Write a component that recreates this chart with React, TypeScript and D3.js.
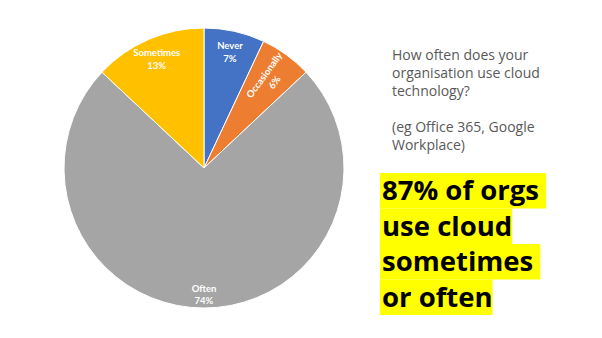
import React, { useEffect, useRef } from 'react'
import * as d3 from 'd3'

const categories = ['Never', 'Occasionally', 'Often', 'Sometimes']
const percents = [7, 6, 74, 13]
const colors = ['#4472C4', '#ED7D31', '#A5A5A5', '#FFC000']
const questionLines = ['How often does your', 'organisation use cloud', 'technology?', '', '(eg Office 365, Google', 'Workplace)']
const headlineLines = ['87% of orgs ', 'use cloud', 'sometimes ', 'or often']

const W = 602
const H = 338

export default function App() {
  const ref = useRef<SVGSVGElement>(null)

  useEffect(() => {
    document.body.style.margin = '0'
    const svg = d3.select(ref.current)
    svg.selectAll('*').remove()

    const cx = 204, cy = 168, r = 140
    const data = categories.map((c, i) => ({ name: c, value: percents[i], color: colors[i] }))
    const pie = d3.pie<any>().value(d => d.value).sort(null)
    const arc = d3.arc<any>().innerRadius(0).outerRadius(r)
    const arcs = pie(data)

    const g = svg.append('g').attr('transform', `translate(${cx},${cy})`)
    g.selectAll('path')
      .data(arcs)
      .enter()
      .append('path')
      .attr('d', arc)
      .attr('fill', d => d.data.color)
      .attr('stroke', '#fff')
      .attr('stroke-width', 1)

    // labels, "Occasionally" is rotated along its radius like in the original
    arcs.forEach(a => {
      const narrow = a.data.name === 'Occasionally'
      const lr = narrow ? r * 0.79 : a.data.name === 'Often' ? r * 0.9 : r * 0.85
      const la = d3.arc<any>().innerRadius(lr).outerRadius(lr)
      const [x, y] = la.centroid(a)
      const mid = ((a.startAngle + a.endAngle) / 2) * 180 / Math.PI
      const t = g.append('text')
        .attr('transform', `translate(${x},${y})` + (narrow ? ` rotate(${mid - 90})` : ''))
        .attr('text-anchor', 'middle')
        .attr('fill', '#fff')
        .attr('font-family', 'Lato, sans-serif')
        .attr('font-weight', 700)
        .attr('font-size', 9.5)
      t.append('tspan').attr('x', 0).attr('dy', '-0.25em').text(a.data.name)
      t.append('tspan').attr('x', 0).attr('dy', '1.3em').text(a.data.value + '%')
    })

    // question text
    const q = svg.append('text')
      .attr('fill', '#595959')
      .attr('font-family', '"Open Sans", sans-serif')
      .attr('font-size', 14)
    questionLines.forEach((l, i) => {
      q.append('tspan').attr('x', 392).attr('y', 60 + i * 18).text(l)
    })

    // highlighted headline
    const hl = svg.append('g')
    headlineLines.forEach((l, i) => {
      const top = 173 + i * 35.5
      const rect = hl.append('rect').attr('fill', '#FFFF00').attr('x', 380).attr('y', top).attr('height', 35.5)
      const t = hl.append('text')
        .attr('x', 382)
        .attr('y', top + 27)
        .attr('font-family', '"Open Sans", sans-serif')
        .attr('font-weight', 700)
        .attr('font-size', 27.5)
        .attr('fill', '#000')
        .style('white-space', 'pre')
        .style('font-variant-ligatures', 'none')
        .text(l)
      const w = (t.node() as SVGTextElement).getComputedTextLength()
      rect.attr('width', w + 2)
    })
  }, [])

  return <svg ref={ref} width={W} height={H} style={{ display: 'block', background: '#fff' }} />
}
